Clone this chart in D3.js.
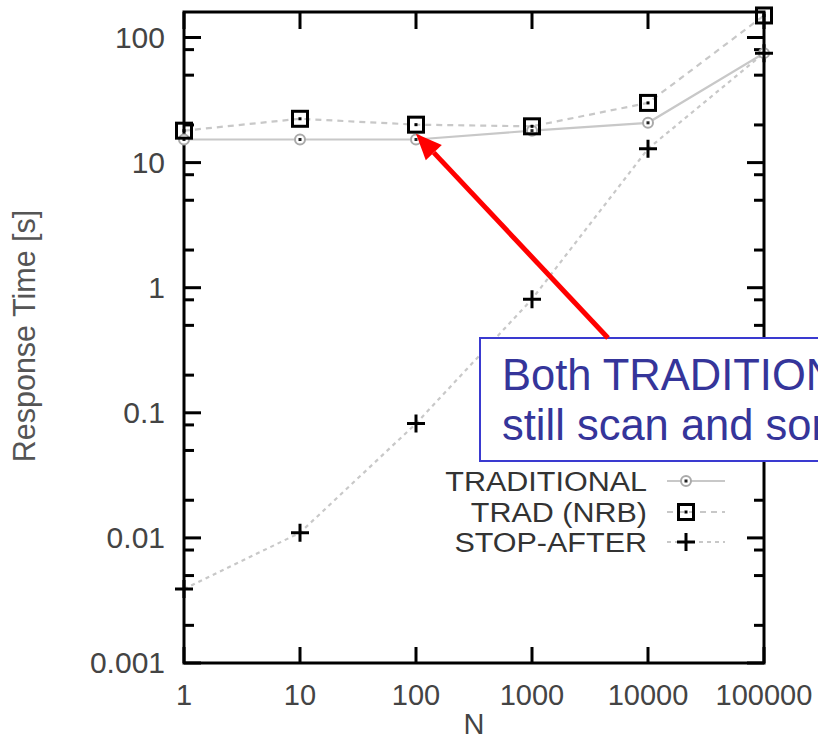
<!DOCTYPE html>
<html>
<head>
<meta charset="utf-8">
<script src="https://cdn.jsdelivr.net/npm/d3@7"></script>
<style>
  body { margin: 0; background: #fff; }
  svg { display: block; }
</style>
</head>
<body>
<div class="chart"></div>
<script>
// data
const nValues = [1, 10, 100, 1000, 10000, 100000];
const traditional = [15.3, 15.3, 15.3, 18, 20.8, 75];
const tradNrb = [18, 22.4, 20.1, 19.5, 30, 150];
const stopAfter = [0.0039, 0.011, 0.082, 0.81, 12.9, 75];
const xTickLabels = ["1", "10", "100", "1000", "10000", "100000"];
const yTickValues = [100, 10, 1, 0.1, 0.01, 0.001];
const yTickLabels = ["100", "10", "1", "0.1", "0.01", "0.001"];
const yMinorTicks = [0.002, 0.005, 0.008, 0.02, 0.05, 0.08, 0.2, 0.5, 0.8, 2, 5, 8, 20, 50, 80];

const W = 818, H = 739;
const padL = 184, padR = 764, padT = 12, padB = 663;
const font = "'Liberation Sans', Arial, sans-serif";

const svg = d3.select(".chart").append("svg")
  .attr("width", W)
  .attr("height", H);

const x = d3.scaleLog().domain([1, 100000]).range([padL, padR]);
const y = d3.scaleLog().domain([0.001, 100]).range([padB, 37.5]);

// curves
const line = d3.line()
  .x((d, i) => x(nValues[i]))
  .y((d) => y(d));

const series = [
  {name: "TRADITIONAL", values: traditional, dash: null, marker: "circle"},
  {name: "TRAD (NRB)", values: tradNrb, dash: "6,5", marker: "square"},
  {name: "STOP-AFTER", values: stopAfter, dash: "4,4", marker: "plus"}
];

series.forEach((s) => {
  svg.append("path")
    .attr("d", line(s.values))
    .style("fill", "none")
    .style("stroke", "#c8c8c8")
    .style("stroke-width", 2.2)
    .style("stroke-dasharray", s.dash);
});

// frame + ticks
const g = svg.append("g").style("stroke", "#000").style("stroke-width", 3);
g.append("rect")
  .attr("x", padL).attr("y", padT)
  .attr("width", padR - padL).attr("height", padB - padT)
  .style("fill", "none");

yTickValues.forEach((v) => {
  g.append("line").attr("x1", padL).attr("x2", padL + 17).attr("y1", y(v)).attr("y2", y(v));
  g.append("line").attr("x1", padR).attr("x2", padR - 17).attr("y1", y(v)).attr("y2", y(v));
});
yMinorTicks.forEach((v) => {
  g.append("line").attr("x1", padL).attr("x2", padL + 10).attr("y1", y(v)).attr("y2", y(v));
  g.append("line").attr("x1", padR).attr("x2", padR - 10).attr("y1", y(v)).attr("y2", y(v));
});
nValues.forEach((v) => {
  g.append("line").attr("x1", x(v)).attr("x2", x(v)).attr("y1", padB).attr("y2", padB - 16);
  g.append("line").attr("x1", x(v)).attr("x2", x(v)).attr("y1", padT).attr("y2", padT + 17);
});

// tick labels
svg.selectAll(".ylab")
  .data(yTickValues)
  .enter()
  .append("text")
  .attr("x", 165)
  .attr("y", (d) => y(d) + 10)
  .attr("text-anchor", "end")
  .attr("font-family", font)
  .attr("font-size", "30px")
  .attr("fill", "#444")
  .text((d, i) => yTickLabels[i]);

svg.selectAll(".xlab")
  .data(nValues)
  .enter()
  .append("text")
  .attr("x", (d) => x(d))
  .attr("y", 705)
  .attr("text-anchor", "middle")
  .attr("font-family", font)
  .attr("font-size", "29px")
  .attr("fill", "#444")
  .text((d, i) => xTickLabels[i]);

svg.append("text")
  .attr("x", 474)
  .attr("y", 734)
  .attr("text-anchor", "middle")
  .attr("font-family", font)
  .attr("font-size", "29px")
  .attr("fill", "#444")
  .text("N");

svg.append("text")
  .attr("transform", "translate(35,336) rotate(-90)")
  .attr("text-anchor", "middle")
  .attr("font-family", font)
  .attr("font-size", "30.5px")
  .attr("fill", "#555")
  .text("Response Time [s]");

// markers
const drawMarker = function(type, cx, cy) {
  if (type === "circle") {
    svg.append("circle").attr("cx", cx).attr("cy", cy).attr("r", 5)
      .style("fill", "#fff").style("stroke", "#aaa").style("stroke-width", 2);
    svg.append("rect").attr("x", cx - 1.5).attr("y", cy - 1.5).attr("width", 3).attr("height", 3)
      .style("fill", "#222");
  } else if (type === "square") {
    svg.append("rect").attr("x", cx - 7.5).attr("y", cy - 7.5).attr("width", 15).attr("height", 15)
      .style("fill", "none").style("stroke", "#000").style("stroke-width", 3);
    svg.append("rect").attr("x", cx - 1.5).attr("y", cy - 1.5).attr("width", 3).attr("height", 3)
      .style("fill", "#000");
  } else {
    svg.append("path")
      .attr("d", "M" + (cx - 9) + "," + cy + "H" + (cx + 9) + "M" + cx + "," + (cy - 9) + "V" + (cy + 9))
      .style("stroke", "#000").style("stroke-width", 3);
  }
};

series.forEach((s) => {
  s.values.forEach((v, i) => drawMarker(s.marker, x(nValues[i]), y(v)));
});

// legend (text is a bit wide in the original, so stretch it horizontally)
const legendY = [481, 512, 542];
series.forEach((s, i) => {
  svg.append("text")
    .attr("transform", "translate(647," + (legendY[i] + 10) + ") scale(1.09,1)")
    .attr("text-anchor", "end")
    .attr("font-family", font)
    .attr("font-size", "28px")
    .attr("fill", "#333")
    .text(s.name);
  svg.append("line")
    .attr("x1", 667).attr("x2", 725)
    .attr("y1", legendY[i]).attr("y2", legendY[i])
    .style("stroke", "#c8c8c8")
    .style("stroke-width", 2.2)
    .style("stroke-dasharray", s.dash);
  drawMarker(s.marker, 686, legendY[i]);
});

// annotation box (runs off the right edge, as in the original slide)
svg.append("rect")
  .attr("x", 480).attr("y", 338)
  .attr("width", 400).attr("height", 123)
  .style("fill", "#fff")
  .style("stroke", "#3a3ad0")
  .style("stroke-width", 2);

const noteLines = ["Both TRADITIONAL variants", "still scan and sort all rows"];
noteLines.forEach((t, i) => {
  svg.append("text")
    .attr("x", 502)
    .attr("y", 390 + i * 50)
    .attr("font-family", font)
    .attr("font-size", "43.5px")
    .attr("fill", "#35359a")
    .text(t);
});

// red arrow pointing at TRAD (NRB), N=100
const ax = x(100), ay = y(tradNrb[2]) + 9;
const bx = 608, by = 338;
const ang = Math.atan2(ay - by, ax - bx);
const headLen = 26, headW = 11;
const hx = ax - headLen * Math.cos(ang), hy = ay - headLen * Math.sin(ang);
svg.append("line")
  .attr("x1", bx).attr("y1", by).attr("x2", hx).attr("y2", hy)
  .style("stroke", "#ff0000").style("stroke-width", 5);
svg.append("path")
  .attr("d", "M" + ax + "," + ay +
    "L" + (hx + headW * Math.sin(ang)) + "," + (hy - headW * Math.cos(ang)) +
    "L" + (hx - headW * Math.sin(ang)) + "," + (hy + headW * Math.cos(ang)) + "Z")
  .style("fill", "#ff0000");
</script>
</body>
</html>
